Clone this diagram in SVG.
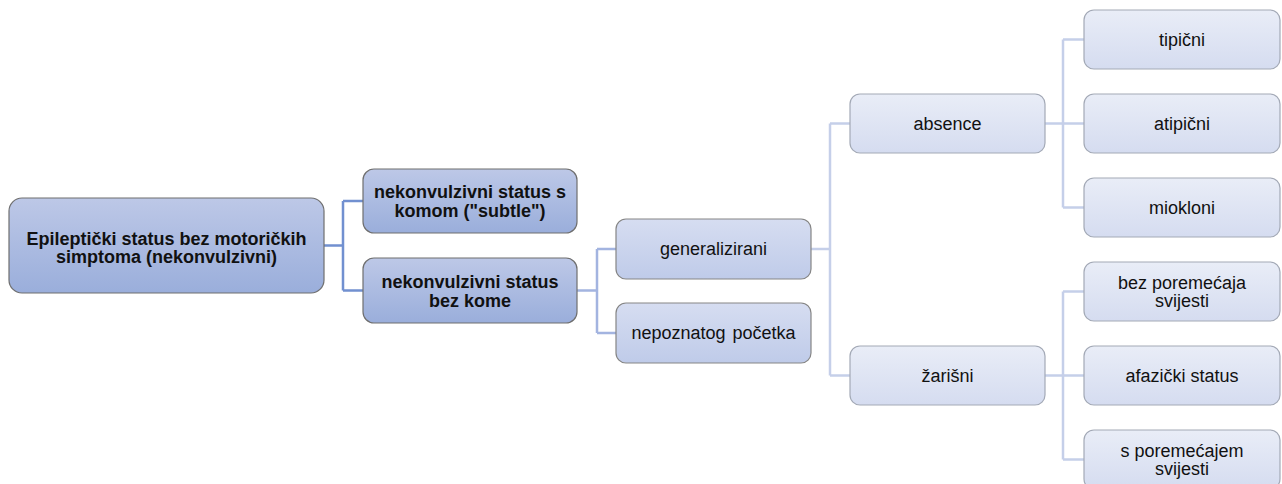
<svg xmlns="http://www.w3.org/2000/svg" width="1282" height="484" viewBox="0 0 1282 484">
<defs>
<linearGradient id="g1" x1="0" y1="0" x2="0" y2="1">
<stop offset="0" stop-color="#bdc8e7"/>
<stop offset="1" stop-color="#9aaedb"/>
</linearGradient>
<linearGradient id="g2" x1="0" y1="0" x2="0" y2="1">
<stop offset="0" stop-color="#d6ddf1"/>
<stop offset="1" stop-color="#bfcbe9"/>
</linearGradient>
<linearGradient id="g3" x1="0" y1="0" x2="0" y2="1">
<stop offset="0" stop-color="#e9edf7"/>
<stop offset="1" stop-color="#d5dcf0"/>
</linearGradient>
<style>
.n1{fill:url(#g1);stroke:#6f6f6f;stroke-width:1.2}
.n2{fill:url(#g2);stroke:#858585;stroke-width:1.2}
.n3{fill:url(#g3);stroke:#a3a9b6;stroke-width:1.2}
text{font-family:"Liberation Sans",Arial,sans-serif;font-size:18px;fill:#111;text-anchor:middle}
.b{font-weight:bold}
.c1{fill:none;stroke:#7190d0;stroke-width:2.5}
.c2{fill:none;stroke:#a3b4e0;stroke-width:2.5}
.c3{fill:none;stroke:#c5cfe9;stroke-width:2.5}
</style>
</defs>
<g id="connectors">
<path class="c1" d="M324 245.5H343M343 201V290.5M343 201H363M343 290.5H363"/>
<path class="c2" d="M577 290.5H597M597 249V333M597 249H616M597 333H616"/>
<path class="c3" d="M811 249H830M830 123.5V375.5M830 123.5H850M830 375.5H850"/>
<path class="c3" d="M1045 123.5H1084M1063 39.5V207.5M1063 39.5H1084M1063 207.5H1084"/>
<path class="c3" d="M1045 375.5H1084M1063 291.5V459.5M1063 291.5H1084M1063 459.5H1084"/>
</g>
<g id="root">
<rect class="n1" x="9" y="198" width="315" height="95" rx="13"/>
<text class="b" x="166.5" y="245">Epileptički status bez motoričkih</text>
<text class="b" x="166.5" y="263">simptoma (nekonvulzivni)</text>
</g>
<g id="n-koma">
<rect class="n1" x="363" y="169" width="214" height="64" rx="11"/>
<text class="b" x="470" y="198">nekonvulzivni status s</text>
<text class="b" x="470" y="217">komom ("subtle")</text>
</g>
<g id="n-bezkome">
<rect class="n1" x="363" y="258" width="214" height="65" rx="11"/>
<text class="b" x="470" y="288">nekonvulzivni status</text>
<text class="b" x="470" y="307">bez kome</text>
</g>
<g id="n-gen">
<rect class="n2" x="616" y="219" width="195" height="60" rx="10"/>
<text x="713.5" y="255">generalizirani</text>
</g>
<g id="n-nepoz">
<rect class="n2" x="616" y="303" width="195" height="60" rx="10"/>
<text x="713.5" y="339" word-spacing="2">nepoznatog početka</text>
</g>
<g id="n-absence">
<rect class="n3" x="850" y="94" width="195" height="59" rx="10"/>
<text x="947.5" y="130">absence</text>
</g>
<g id="n-zarisni">
<rect class="n3" x="850" y="346" width="195" height="59" rx="10"/>
<text x="947.5" y="382">žarišni</text>
</g>
<g id="n-tipicni">
<rect class="n3" x="1084" y="10" width="196" height="59" rx="10"/>
<text x="1182" y="46">tipični</text>
</g>
<g id="n-atipicni">
<rect class="n3" x="1084" y="94" width="196" height="59" rx="10"/>
<text x="1182" y="130">atipični</text>
</g>
<g id="n-miokloni">
<rect class="n3" x="1084" y="178" width="196" height="59" rx="10"/>
<text x="1182" y="214">miokloni</text>
</g>
<g id="n-bezpor">
<rect class="n3" x="1084" y="262" width="196" height="59" rx="10"/>
<text x="1182" y="289">bez poremećaja</text>
<text x="1182" y="307">svijesti</text>
</g>
<g id="n-afazicki">
<rect class="n3" x="1084" y="346" width="196" height="59" rx="10"/>
<text x="1182" y="382">afazički status</text>
</g>
<g id="n-spor">
<rect class="n3" x="1084" y="430" width="196" height="59" rx="10"/>
<text x="1182" y="457">s poremećajem</text>
<text x="1182" y="475">svijesti</text>
</g>
</svg>
